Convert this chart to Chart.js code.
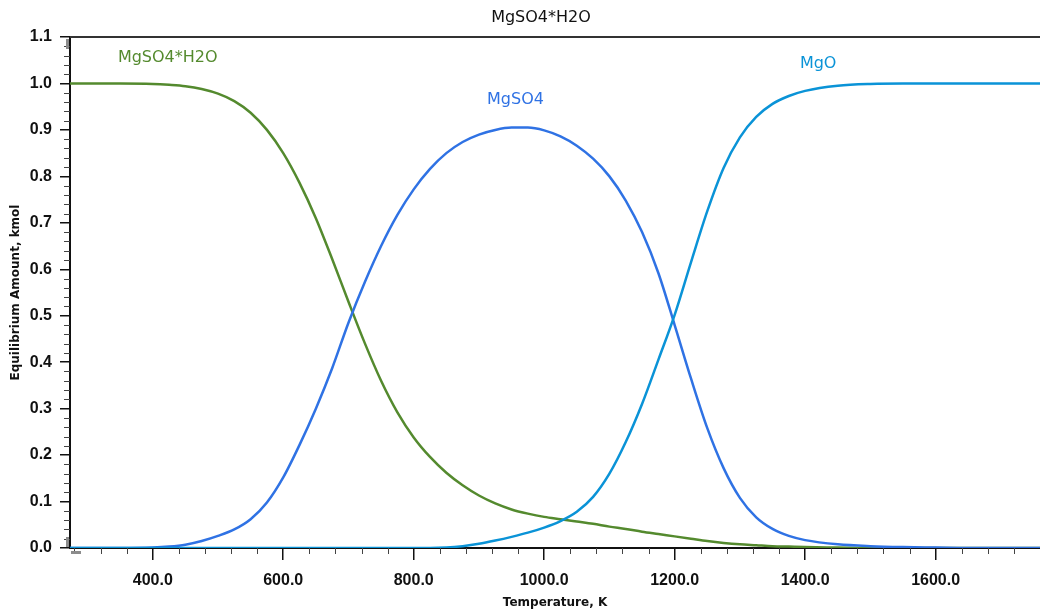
<!DOCTYPE html>
<html>
<head>
<meta charset="utf-8">
<title>MgSO4*H2O</title>
<script src="https://cdn.jsdelivr.net/npm/chart.js@4.4.1/dist/chart.umd.min.js"></script>
<style>
  html, body { margin: 0; padding: 0; background: #fff; overflow: hidden; }
  #wrap { width: 1040px; height: 614px; }
</style>
</head>
<body>
<div id="wrap"><canvas id="eqChart" width="1040" height="614"></canvas></div>
<script>
// Equilibrium amounts (kmol) of the Mg species vs temperature (K)
const temps = [273.15, 300, 350,
  400, 425, 450, 475, 500, 525, 550, 575, 600, 625, 650, 675, 700, 725, 750, 775,
  800, 825, 850, 875, 900, 925, 950, 975, 1000, 1025, 1050, 1075, 1100, 1125, 1150, 1175,
  1200, 1225, 1250, 1275, 1300, 1325, 1350, 1375, 1400,
  1450, 1500, 1550, 1600, 1650, 1700, 1750, 1773.15];

const hydrate = [1.0, 1.0, 1.0,
  0.999, 0.997, 0.994, 0.988, 0.978, 0.962, 0.937, 0.9, 0.85, 0.786, 0.71, 0.622, 0.53, 0.441, 0.36, 0.292,
  0.238, 0.196, 0.162, 0.135, 0.113, 0.096, 0.083, 0.074, 0.067, 0.062, 0.057, 0.052, 0.046, 0.041, 0.035, 0.03,
  0.025, 0.02, 0.015, 0.011, 0.008, 0.006, 0.004, 0.003, 0.002,
  0.001, 0, 0, 0, 0, 0, 0, 0];

const sulfate = [0, 0, 0,
  0.001, 0.003, 0.007, 0.015, 0.026, 0.04, 0.062, 0.098, 0.152, 0.222, 0.3, 0.387, 0.485, 0.572, 0.65, 0.717,
  0.772, 0.816, 0.85, 0.874, 0.89, 0.9, 0.905, 0.905, 0.899, 0.886, 0.866, 0.838, 0.8, 0.748, 0.68, 0.592,
  0.48, 0.365, 0.258, 0.172, 0.108, 0.066, 0.041, 0.026, 0.017,
  0.008, 0.004, 0.002, 0.001, 0, 0, 0, 0];

const oxide = [0, 0, 0,
  0, 0, 0, 0, 0, 0, 0, 0, 0, 0, 0, 0, 0, 0, 0, 0,
  0, 0, 0.001, 0.004, 0.009, 0.016, 0.024, 0.033, 0.044, 0.058, 0.078, 0.11, 0.16, 0.228, 0.31, 0.405,
  0.502, 0.615, 0.725, 0.818, 0.884, 0.928, 0.956, 0.973, 0.984,
  0.995, 0.999, 1, 1, 1, 1, 1, 1];

const xTicks = [400, 600, 800, 1000, 1200, 1400, 1600];
const yTicks = [0, 0.1, 0.2, 0.3, 0.4, 0.5, 0.6, 0.7, 0.8, 0.9, 1.0, 1.1];

const seriesNames = ['MgSO4*H2O', 'MgSO4', 'MgO'];
const seriesColors = ['#548a2e', '#2f72e4', '#0a93d7'];
// where each curve name sits, in axis units (K, kmol)
const labelAt = [[423, 1.055], [956, 0.964], [1420, 1.042]];

const toPoints = vals => temps.map((t, i) => ({ x: t, y: vals[i] }));

const tickFont = { family: '"Liberation Sans", Arial, sans-serif', size: 16, weight: 'bold' };
const titleFont = { family: '"DejaVu Sans", sans-serif', size: 12, weight: 'bold' };

// frame, minor ticks, scroll handles, heading and curve names
const extras = {
  id: 'extras',
  afterDraw(chart) {
    const { ctx, chartArea: a, scales: { x, y } } = chart;
    ctx.save();

    ctx.strokeStyle = '#333';
    ctx.lineWidth = 2;
    ctx.beginPath();
    ctx.moveTo(a.left, a.top);
    ctx.lineTo(a.right, a.top);
    ctx.stroke();

    ctx.strokeStyle = '#444';
    ctx.lineWidth = 1;
    ctx.beginPath();
    for (let t = 280; t < x.max; t += 40) {
      if (t % 200 === 0) continue;
      const px = Math.round(x.getPixelForValue(t)) + 0.5;
      ctx.moveTo(px, a.bottom);
      ctx.lineTo(px, a.bottom + 6);
    }
    for (let i = 1; i < 55; i++) {
      if (i % 5 === 0) continue;
      const py = Math.round(y.getPixelForValue(i * 0.02)) + 0.5;
      ctx.moveTo(a.left - 6, py);
      ctx.lineTo(a.left, py);
    }
    ctx.stroke();

    ctx.fillStyle = '#8c8c8c';
    ctx.fillRect(a.left - 4, a.top + 2, 3, 10);
    ctx.fillRect(a.left - 4, a.bottom - 11, 3, 10);
    ctx.fillRect(a.left + 1, a.bottom + 3, 10, 3);

    ctx.textAlign = 'center';
    ctx.textBaseline = 'middle';
    ctx.font = '16px "DejaVu Sans", sans-serif';
    ctx.fillStyle = '#111';
    ctx.fillText('MgSO4*H2O', 541, 18);

    seriesNames.forEach((name, i) => {
      ctx.fillStyle = seriesColors[i];
      ctx.fillText(name, x.getPixelForValue(labelAt[i][0]), y.getPixelForValue(labelAt[i][1]));
    });
    ctx.restore();
  }
};

const line = (i, vals) => ({
  label: seriesNames[i],
  data: toPoints(vals),
  borderColor: seriesColors[i],
  borderWidth: 2.5,
  pointRadius: 0,
  cubicInterpolationMode: 'monotone',
  fill: false
});

new Chart(document.getElementById('eqChart'), {
  type: 'line',
  data: {
    // MgO first so it is painted on top along the zero line
    datasets: [line(2, oxide), line(1, sulfate), line(0, hydrate)]
  },
  options: {
    responsive: false,
    animation: false,
    devicePixelRatio: 1,
    layout: { padding: { top: 37, right: 0, bottom: 0, left: 0 } },
    plugins: { legend: { display: false }, tooltip: { enabled: false }, title: { display: false } },
    scales: {
      x: {
        type: 'linear',
        min: 273.15,
        max: 1760,
        afterFit: s => { s.height = 66; },
        afterBuildTicks: s => { s.ticks = xTicks.map(v => ({ value: v })); },
        ticks: { color: '#111', font: tickFont, padding: 11, maxRotation: 0, callback: v => Number(v).toFixed(1) },
        grid: { drawOnChartArea: false, tickLength: 12, tickColor: '#111', lineWidth: 1.5 },
        border: { color: '#111', width: 2 },
        title: { display: true, text: 'Temperature, K', color: '#111', font: titleFont, padding: { top: 0, bottom: 4 } }
      },
      y: {
        min: 0,
        max: 1.1,
        afterFit: s => { s.width = 70; },
        afterBuildTicks: s => { s.ticks = yTicks.map(v => ({ value: v })); },
        ticks: { color: '#111', font: tickFont, padding: 8, callback: v => Number(v).toFixed(1) },
        grid: { drawOnChartArea: false, tickLength: 10, tickColor: '#111', lineWidth: 1.5 },
        border: { color: '#111', width: 2 },
        title: { display: true, text: 'Equilibrium Amount, kmol', color: '#111', font: titleFont, padding: { top: 9, bottom: 0 } }
      }
    }
  },
  plugins: [extras]
});
</script>
</body>
</html>
